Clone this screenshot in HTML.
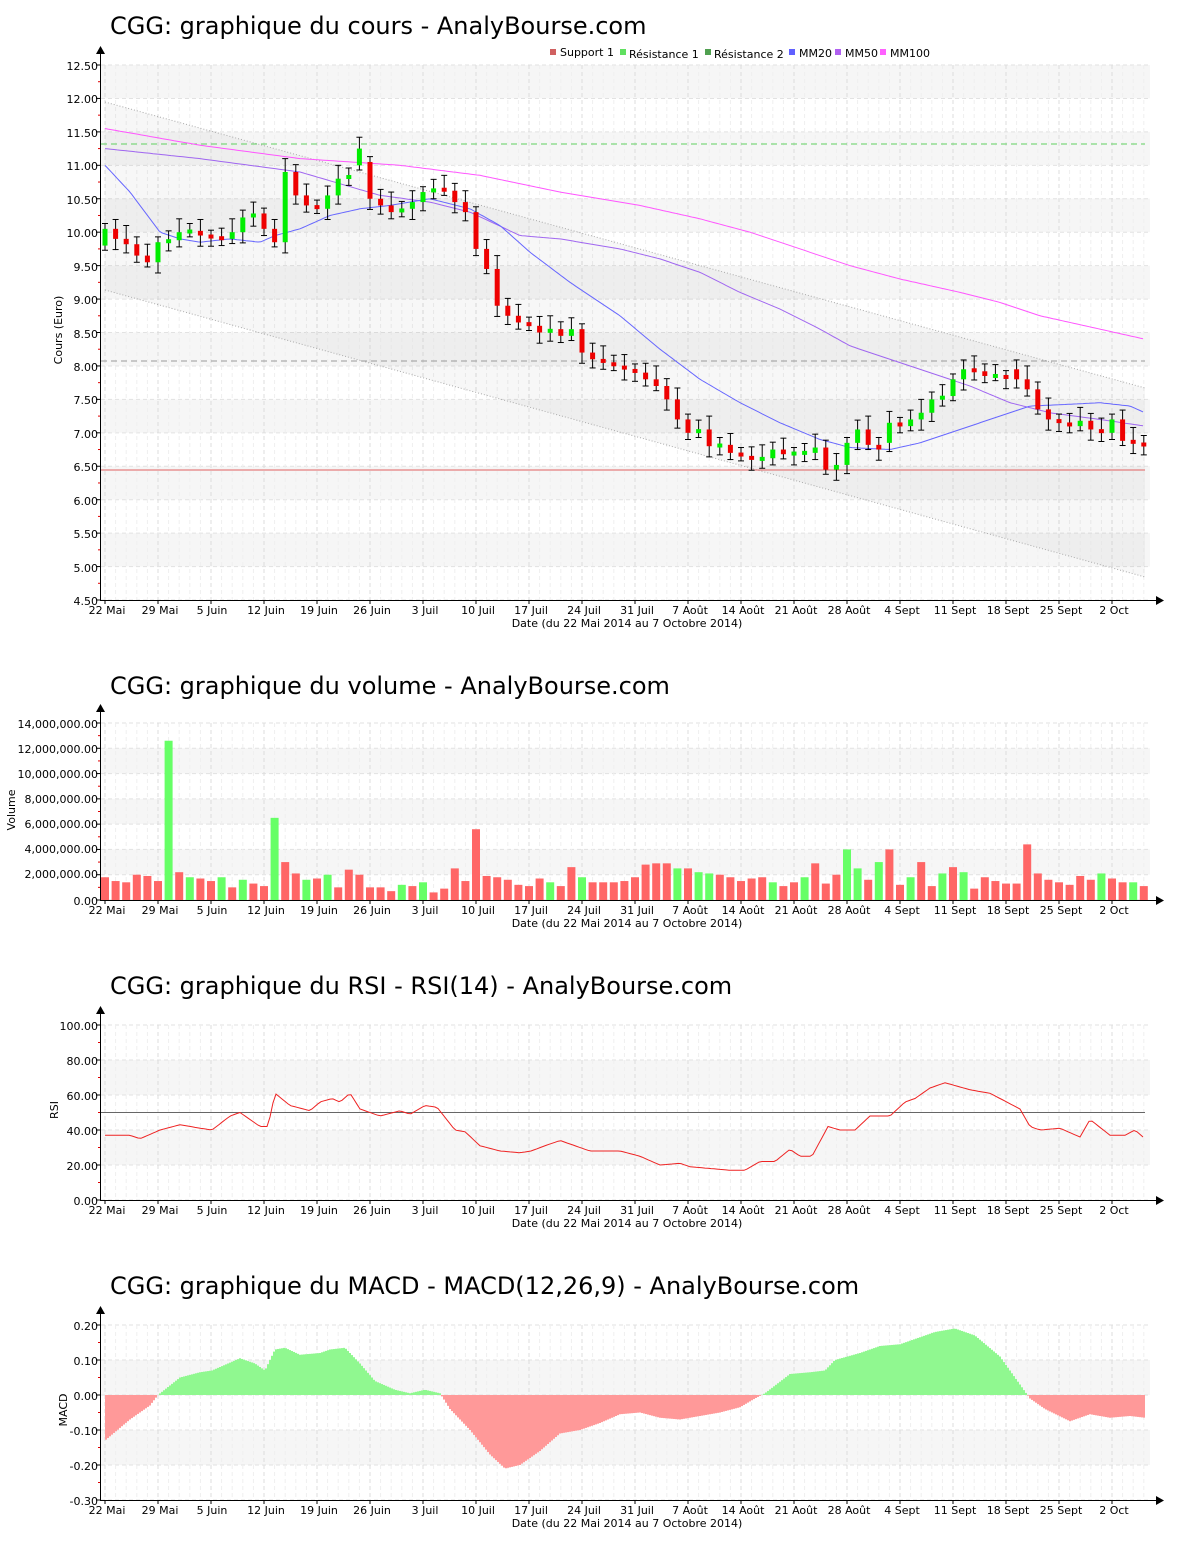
<!DOCTYPE html>
<html><head><meta charset="utf-8"><style>
html,body{margin:0;padding:0;background:#fff;}
svg{display:block;font-family:"DejaVu Sans","Liberation Sans",sans-serif;}
.t{font-size:24px;fill:#000}
.tk{font-size:11px;fill:#000}
.ax{font-size:11px;fill:#000}
</style></head><body>
<svg id="s" width="1200" height="1550" xmlns="http://www.w3.org/2000/svg">
<g id="bg"></g>
<g id="fg"></g>
<text class="t" x="110" y="34">CGG: graphique du cours - AnalyBourse.com</text>
<text class="t" x="110" y="694">CGG: graphique du volume - AnalyBourse.com</text>
<text class="t" x="110" y="994">CGG: graphique du RSI - RSI(14) - AnalyBourse.com</text>
<text class="t" x="110" y="1294">CGG: graphique du MACD - MACD(12,26,9) - AnalyBourse.com</text>
<g font-size="11">
<rect x="550" y="49" width="6" height="6" fill="#d06060"/><text x="560" y="56">Support 1</text>
<rect x="620" y="49" width="6" height="6" fill="#60e060"/><text x="629" y="58">Résistance 1</text>
<rect x="705" y="49" width="6" height="6" fill="#50a050"/><text x="714" y="58">Résistance 2</text>
<rect x="789" y="49" width="6" height="6" fill="#6060ff"/><text x="799" y="57">MM20</text>
<rect x="835" y="49" width="6" height="6" fill="#b060f0"/><text x="845" y="57">MM50</text>
<rect x="880" y="49" width="6" height="6" fill="#ff60ff"/><text x="890" y="57">MM100</text>
</g>
<g class="tk" text-anchor="end">
<text x="98" y="70">12.50</text><text x="98" y="103">12.00</text><text x="98" y="137">11.50</text><text x="98" y="170">11.00</text><text x="98" y="204">10.50</text><text x="98" y="237">10.00</text><text x="98" y="271">9.50</text><text x="98" y="304">9.00</text><text x="98" y="338">8.50</text><text x="98" y="371">8.00</text><text x="98" y="404">7.50</text><text x="98" y="438">7.00</text><text x="98" y="471">6.50</text><text x="98" y="505">6.00</text><text x="98" y="538">5.50</text><text x="98" y="572">5.00</text><text x="98" y="605">4.50</text>
<text x="98" y="728">14,000,000.00</text><text x="98" y="753">12,000,000.00</text><text x="98" y="778">10,000,000.00</text><text x="98" y="803">8,000,000.00</text><text x="98" y="828">6,000,000.00</text><text x="98" y="853">4,000,000.00</text><text x="98" y="878">2,000,000.00</text><text x="98" y="905">0.00</text>
<text x="98" y="1030">100.00</text><text x="98" y="1065">80.00</text><text x="98" y="1100">60.00</text><text x="98" y="1135">40.00</text><text x="98" y="1170">20.00</text><text x="98" y="1205">0.00</text>
<text x="98" y="1330">0.20</text><text x="98" y="1365">0.10</text><text x="98" y="1400">0.00</text><text x="98" y="1435">-0.10</text><text x="98" y="1470">-0.20</text><text x="98" y="1505">-0.30</text>
</g>
<g class="ax">
<text transform="translate(62,330) rotate(-90)" text-anchor="middle">Cours (Euro)</text>
<text transform="translate(15,810) rotate(-90)" text-anchor="middle">Volume</text>
<text transform="translate(58,1110) rotate(-90)" text-anchor="middle">RSI</text>
<text transform="translate(67,1410) rotate(-90)" text-anchor="middle">MACD</text>
<text x="627" y="627" text-anchor="middle">Date (du 22 Mai 2014 au 7 Octobre 2014)</text>
<text x="627" y="927" text-anchor="middle">Date (du 22 Mai 2014 au 7 Octobre 2014)</text>
<text x="627" y="1227" text-anchor="middle">Date (du 22 Mai 2014 au 7 Octobre 2014)</text>
<text x="627" y="1527" text-anchor="middle">Date (du 22 Mai 2014 au 7 Octobre 2014)</text>
</g>
<g class="tk" text-anchor="middle" id="xl">
<g id="xl0">
<text x="107" y="614">22 Mai</text><text x="160" y="614">29 Mai</text><text x="212" y="614">5 Juin</text><text x="266" y="614">12 Juin</text><text x="319" y="614">19 Juin</text><text x="372" y="614">26 Juin</text><text x="425" y="614">3 Juil</text><text x="478" y="614">10 Juil</text><text x="531" y="614">17 Juil</text><text x="584" y="614">24 Juil</text><text x="637" y="614">31 Juil</text><text x="690" y="614">7 Août</text><text x="743" y="614">14 Août</text><text x="796" y="614">21 Août</text><text x="849" y="614">28 Août</text><text x="902" y="614">4 Sept</text><text x="955" y="614">11 Sept</text><text x="1008" y="614">18 Sept</text><text x="1061" y="614">25 Sept</text><text x="1114" y="614">2 Oct</text>
</g>
<g transform="translate(0,300)">
<text x="107" y="614">22 Mai</text><text x="160" y="614">29 Mai</text><text x="212" y="614">5 Juin</text><text x="266" y="614">12 Juin</text><text x="319" y="614">19 Juin</text><text x="372" y="614">26 Juin</text><text x="425" y="614">3 Juil</text><text x="478" y="614">10 Juil</text><text x="531" y="614">17 Juil</text><text x="584" y="614">24 Juil</text><text x="637" y="614">31 Juil</text><text x="690" y="614">7 Août</text><text x="743" y="614">14 Août</text><text x="796" y="614">21 Août</text><text x="849" y="614">28 Août</text><text x="902" y="614">4 Sept</text><text x="955" y="614">11 Sept</text><text x="1008" y="614">18 Sept</text><text x="1061" y="614">25 Sept</text><text x="1114" y="614">2 Oct</text>
</g>
<g transform="translate(0,600)">
<text x="107" y="614">22 Mai</text><text x="160" y="614">29 Mai</text><text x="212" y="614">5 Juin</text><text x="266" y="614">12 Juin</text><text x="319" y="614">19 Juin</text><text x="372" y="614">26 Juin</text><text x="425" y="614">3 Juil</text><text x="478" y="614">10 Juil</text><text x="531" y="614">17 Juil</text><text x="584" y="614">24 Juil</text><text x="637" y="614">31 Juil</text><text x="690" y="614">7 Août</text><text x="743" y="614">14 Août</text><text x="796" y="614">21 Août</text><text x="849" y="614">28 Août</text><text x="902" y="614">4 Sept</text><text x="955" y="614">11 Sept</text><text x="1008" y="614">18 Sept</text><text x="1061" y="614">25 Sept</text><text x="1114" y="614">2 Oct</text>
</g>
<g transform="translate(0,900)">
<text x="107" y="614">22 Mai</text><text x="160" y="614">29 Mai</text><text x="212" y="614">5 Juin</text><text x="266" y="614">12 Juin</text><text x="319" y="614">19 Juin</text><text x="372" y="614">26 Juin</text><text x="425" y="614">3 Juil</text><text x="478" y="614">10 Juil</text><text x="531" y="614">17 Juil</text><text x="584" y="614">24 Juil</text><text x="637" y="614">31 Juil</text><text x="690" y="614">7 Août</text><text x="743" y="614">14 Août</text><text x="796" y="614">21 Août</text><text x="849" y="614">28 Août</text><text x="902" y="614">4 Sept</text><text x="955" y="614">11 Sept</text><text x="1008" y="614">18 Sept</text><text x="1061" y="614">25 Sept</text><text x="1114" y="614">2 Oct</text>
</g>
</g>
</svg>
<script>
var NS="http://www.w3.org/2000/svg",bg=document.getElementById("bg"),fg=document.getElementById("fg");
function el(p,t,a){var e=document.createElementNS(NS,t);for(var k in a)e.setAttribute(k,a[k]);p.appendChild(e);return e;}
var X0=101,X1=1150,N=99;function dx(i){return 105+i*10.6;}
function interp(pts,x){for(var i=0;i<pts.length-1;i++){if(x<=pts[i+1][0]){var a=pts[i],b=pts[i+1];return a[1]+(b[1]-a[1])*(x-a[0])/(b[0]-a[0]);}}return pts[pts.length-1][1];}
function panel(top,bot,nb,grayFirst){
 var h=(bot-top)/nb;
 for(var i=0;i<nb;i++){var g=grayFirst?(i%2==0):(i%2==1);el(bg,"rect",{x:X0,y:top+i*h,width:X1-X0,height:h,fill:g?"#f6f6f6":"#fff"});}
 for(var i=0;i<=nb;i++){var y=top+i*h;el(bg,"line",{x1:X0,x2:X1,y1:y,y2:y,stroke:"#e2e2e2","stroke-dasharray":"4,3"});
  el(fg,"line",{x1:96,x2:101,y1:y,y2:y,stroke:"#000"});if(i<nb)el(fg,"line",{x1:98,x2:101,y1:y+h/2,y2:y+h/2,stroke:"#e00000"});}
 for(var d=0;d<N;d++){var x=dx(d),wk=(d%5==0);el(bg,"line",{x1:x,x2:x,y1:top,y2:bot,stroke:wk?"#dcdcdc":"#efefef","stroke-dasharray":"4,3"});
  if(wk)el(fg,"line",{x1:x,x2:x,y1:bot,y2:bot+4,stroke:"#000"});}
 el(fg,"line",{x1:100.5,x2:100.5,y1:top-12,y2:bot,stroke:"#000"});
 el(fg,"line",{x1:100,x2:1158,y1:bot+.5,y2:bot+.5,stroke:"#000"});
 el(fg,"path",{d:"M96 "+(top-11)+" L105 "+(top-11)+" L100.5 "+(top-19)+"Z",fill:"#000"});
 el(fg,"path",{d:"M1156 "+(bot-4)+" L1164 "+(bot+.5)+" L1156 "+(bot+5)+"Z",fill:"#000"});
}
function py(p){return 65+(12.5-p)*66.875;}
panel(65,600,16,true);
el(bg,"polygon",{points:"105,102 1145,388 1145,577 105,290",fill:"rgba(0,0,0,0.03)"});
el(fg,"line",{x1:105,y1:102,x2:1145,y2:388,stroke:"#aaa","stroke-dasharray":"1,2"});
el(fg,"line",{x1:105,y1:290,x2:1145,y2:577,stroke:"#aaa","stroke-dasharray":"1,2"});
el(fg,"line",{x1:101,x2:1145,y1:144,y2:144,stroke:"#60d060","stroke-dasharray":"6,4"});
el(fg,"line",{x1:101,x2:1145,y1:361,y2:361,stroke:"#999","stroke-dasharray":"6,4"});
el(fg,"line",{x1:101,x2:1145,y1:470,y2:470,stroke:"#e06060"});
function line(pts,f,col){var d="";for(var x=105;x<=1145;x+=3){d+=(d?"L":"M")+x+" "+f(interp(pts,x)).toFixed(1);}el(fg,"path",{d:d,fill:"none",stroke:col,"stroke-width":1});}
line([[105,11.55],[200,11.3],[300,11.1],[400,11.0],[480,10.85],[560,10.6],[640,10.4],[700,10.2],[750,10.0],[800,9.75],[850,9.5],[900,9.3],[960,9.1],[1000,8.95],[1040,8.75],[1100,8.55],[1145,8.4]],py,"#ff55ff");
line([[105,11.25],[200,11.1],[300,10.9],[380,10.55],[430,10.45],[470,10.3],[520,9.95],[560,9.9],[620,9.75],[660,9.6],[700,9.4],[740,9.1],[780,8.85],[820,8.55],[850,8.3],[890,8.1],[930,7.9],[970,7.7],[1010,7.45],[1050,7.3],[1100,7.2],[1145,7.1]],py,"#a066f0");
line([[105,11.0],[130,10.6],[160,10.0],[180,9.9],[200,9.85],[230,9.9],[260,9.85],[275,9.95],[300,10.05],[330,10.25],[360,10.35],[390,10.4],[430,10.5],[470,10.35],[500,10.1],[530,9.7],[570,9.25],[620,8.75],[660,8.25],[700,7.8],[740,7.45],[780,7.15],[820,6.9],[850,6.78],[890,6.75],[920,6.85],[960,7.05],[1000,7.25],[1030,7.4],[1060,7.42],[1100,7.45],[1130,7.4],[1145,7.3]],py,"#6666ff");
var C=[10.05,9.9,9.82,9.65,9.55, 9.85,9.88,10.0,10.02,9.95, 9.92,9.9,10.0,10.22,10.28, 10.05,9.85,10.9,10.55,10.4, 10.35,10.55,10.8,10.85,11.25, 10.5,10.4,10.3,10.35,10.45, 10.6,10.65,10.62,10.45,10.3, 9.75,9.45,8.9,8.75,8.65, 8.6,8.5,8.55,8.45,8.55, 8.2,8.1,8.05,8.0,7.95, 7.9,7.8,7.7,7.5,7.2, 7.0,7.05,6.8,6.82,6.7, 6.65,6.6,6.62,6.75,6.68, 6.7,6.7,6.78,6.45,6.52, 6.85,7.05,6.82,6.75,7.15, 7.1,7.2,7.3,7.5,7.55, 7.8,7.95,7.92,7.85,7.85, 7.82,7.8,7.65,7.35,7.2, 7.15,7.1,7.18,7.05,7.0, 7.2,6.88,6.85,6.8];
var O=[9.75];for(var i=1;i<N;i++)O.push(C[i-1]);
O[0]=9.8;O[17]=9.85;O[24]=11.0;O[25]=11.05;O[35]=10.3;O[37]=9.45;O[74]=6.85;O[86]=7.95;
for(var i=0;i<N;i++){var x=dx(i),o=O[i],c=C[i],hi=Math.max(o,c)+0.08+((i*7)%5)*0.03,lo=Math.min(o,c)-0.07-((i*3)%4)*0.03;
 el(fg,"line",{x1:x,x2:x,y1:py(hi),y2:py(lo),stroke:"#000"});
 el(fg,"line",{x1:x-3,x2:x+3,y1:py(hi),y2:py(hi),stroke:"#000"});
 el(fg,"line",{x1:x-3,x2:x+3,y1:py(lo),y2:py(lo),stroke:"#000"});
 var y1=py(Math.max(o,c)),y2=py(Math.min(o,c));if(y2-y1<4){var m=(y1+y2)/2;y1=m-2;y2=m+2;}
 el(fg,"rect",{x:x-2.5,y:y1,width:5,height:y2-y1,fill:c>=o?"#00ee00":"#ee0000"});}
panel(723,900,7,false);
var V=[1.8,1.5,1.4,2.0,1.9,1.5,12.6,2.2,1.8,1.7,1.5,1.8,1.0,1.6,1.3,1.1,6.5,3.0,2.1,1.6,1.7,2.0,1.0,2.4,2.0,1.0,1.0,0.7,1.2,1.1,1.4,0.6,0.9,2.5,1.5,5.6,1.9,1.8,1.6,1.2,1.1,1.7,1.4,1.1,2.6,1.8,1.4,1.4,1.4,1.5,1.8,2.8,2.9,2.9,2.5,2.5,2.2,2.1,2.0,1.8,1.5,1.7,1.8,1.4,1.1,1.4,1.8,2.9,1.3,2.0,4.0,2.5,1.6,3.0,4.0,1.2,1.8,3.0,1.1,2.1,2.6,2.2,0.9,1.8,1.5,1.3,1.3,4.4,2.1,1.6,1.4,1.2,1.9,1.6,2.1,1.7,1.4,1.4,1.1,0.4];
var vg=[6,16,8,11,13,19,21,28,30,42,45,54,56,57,63,66,70,71,73,76,79,81,94,97];
for(var i=0;i<N;i++){var g=vg.indexOf(i)>=0;var h=V[i]*12.64;el(fg,"rect",{x:dx(i)-4,y:900-h,width:8,height:h,fill:g?"#66ff66":"#ff6666"});}
panel(1025,1200,5,false);
el(fg,"line",{x1:101,x2:1145,y1:1112.5,y2:1112.5,stroke:"#666"});
line([[105,37],[130,37],[140,35],[160,40],[180,43],[200,41],[212,40],[230,48],[240,50],[260,42],[268,42],[275,61],[290,54],[310,51],[320,56],[332,58],[340,56],[350,61],[360,52],[380,48],[400,51],[410,49],[425,54],[437,53],[455,40],[465,39],[480,31],[500,28],[520,27],[531,28],[545,31],[560,34],[575,31],[590,28],[620,28],[640,25],[660,20],[680,21],[690,19],[710,18],[730,17],[745,17],[760,22],[775,22],[790,29],[800,25],[812,25],[828,42],[840,40],[855,40],[870,48],[890,48],[905,56],[915,58],[930,64],[945,67],[970,63],[990,61],[1010,55],[1020,52],[1030,42],[1040,40],[1060,41],[1080,36],[1090,46],[1110,37],[1125,37],[1135,40],[1145,35]],function(v){return 1200-v*1.75;},"#ee2222");
panel(1325,1500,5,false);
var M=[[105,-0.13],[130,-0.07],[150,-0.03],[158,0],[180,0.05],[200,0.065],[212,0.07],[240,0.105],[255,0.09],[265,0.07],[275,0.13],[285,0.135],[300,0.115],[320,0.12],[330,0.13],[345,0.135],[360,0.09],[375,0.04],[395,0.015],[410,0.005],[425,0.015],[440,0.005],[450,-0.04],[470,-0.10],[490,-0.17],[505,-0.21],[520,-0.2],[540,-0.16],[560,-0.11],[580,-0.10],[600,-0.08],[620,-0.055],[640,-0.05],[660,-0.065],[680,-0.07],[700,-0.06],[720,-0.05],[740,-0.035],[755,-0.01],[765,0.005],[790,0.06],[810,0.065],[825,0.07],[835,0.10],[860,0.12],[880,0.14],[900,0.145],[915,0.16],[935,0.18],[955,0.19],[975,0.17],[1000,0.11],[1015,0.05],[1030,-0.01],[1045,-0.04],[1070,-0.075],[1090,-0.055],[1110,-0.065],[1130,-0.06],[1145,-0.065]];
for(var x=105;x<1145;x+=2){var v=interp(M,x+1),y=1395-v*350;el(fg,"rect",{x:x,y:Math.min(y,1395),width:2,height:Math.abs(1395-y),fill:v>=0?"#90f890":"#ff9999"});}
</script>
</body></html>
